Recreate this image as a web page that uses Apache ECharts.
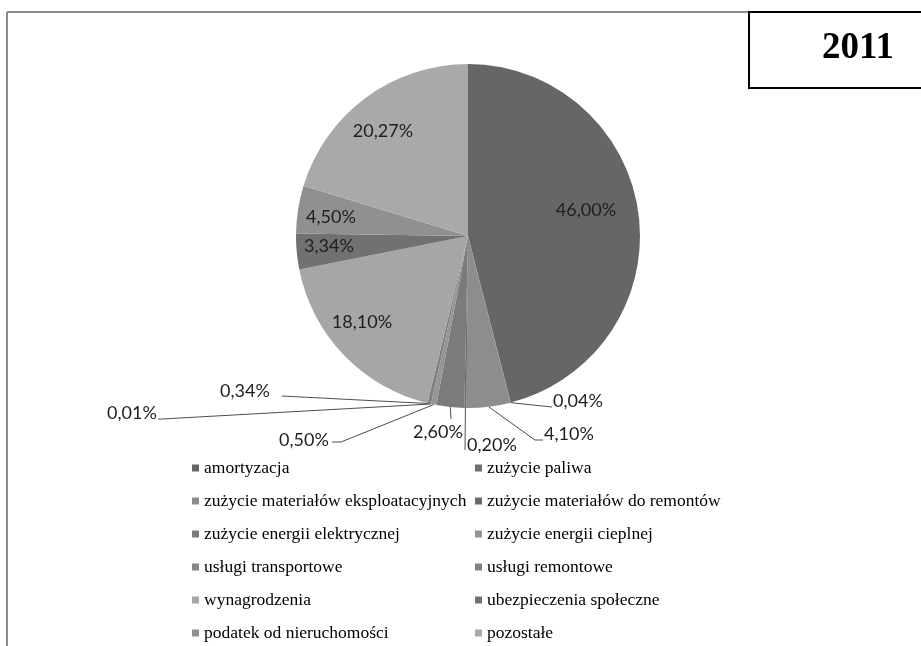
<!DOCTYPE html>
<html>
<head>
<meta charset="utf-8">
<script src="https://cdn.jsdelivr.net/npm/echarts@6/dist/echarts.min.js"></script>
<style>
  html, body { margin: 0; padding: 0; background: #ffffff; }
  #chart { width: 921px; height: 646px; }
</style>
</head>
<body>
<div id="chart"></div>
<script>
// Cost structure, 2011 (% of total costs)
const yearLabel = '2011';

const categories = [
  'amortyzacja',
  'zużycie paliwa',
  'zużycie materiałów eksploatacyjnych',
  'zużycie materiałów do remontów',
  'zużycie energii elektrycznej',
  'zużycie energii cieplnej',
  'usługi transportowe',
  'usługi remontowe',
  'wynagrodzenia',
  'ubezpieczenia społeczne',
  'podatek od nieruchomości',
  'pozostałe'
];

const shares = [46.00, 0.04, 4.10, 0.20, 2.60, 0.50, 0.01, 0.34, 18.10, 3.34, 4.50, 20.27];

const sliceColors = [
  '#666666', '#6f6f6f', '#8d8d8d', '#6a6a6a',
  '#7b7b7b', '#959595', '#878787', '#808080',
  '#a6a6a6', '#717171', '#909090', '#a9a9a9'
];

// Where each percentage label sits; outside labels also get the elbow of their leader line
const labelSpots = [
  { x: 586, y: 210 },
  { x: 578, y: 401, elbow: [[552, 407], [552, 407]] },
  { x: 569, y: 434, elbow: [[535, 440], [543, 440]] },
  { x: 492, y: 445, elbow: [[465, 450], [465, 450]] },
  { x: 438, y: 432, elbow: [[451, 419], [451, 419]] },
  { x: 304, y: 440, elbow: [[341, 442], [332, 442]] },
  { x: 132, y: 413, elbow: [[162, 419], [158, 419]] },
  { x: 245, y: 391, elbow: [[282, 396], [282, 396]] },
  { x: 362, y: 322 },
  { x: 329, y: 246 },
  { x: 331, y: 217 },
  { x: 383, y: 131 }
];

const fmtPercent = v => v.toFixed(2).replace('.', ',') + '%';

const pieData = categories.map((name, i) => {
  const inside = !labelSpots[i].elbow;
  return {
    name: name,
    value: shares[i],
    itemStyle: { color: sliceColors[i] },
    label: { position: inside ? 'inside' : 'outside' },
    labelLine: { show: !inside }
  };
});

const legendText = {
  fontFamily: 'Liberation Serif',
  fontSize: 17.5,
  color: '#000000',
  lineHeight: 20
};

const legendBase = {
  orient: 'vertical', top: 458, height: 220, padding: 0, itemGap: 13,
  icon: 'rect', itemWidth: 7, itemHeight: 7, selectedMode: false,
  textStyle: legendText
};

const chart = echarts.init(document.getElementById('chart'), null, { renderer: 'canvas' });

chart.setOption({
  animation: false,
  backgroundColor: '#ffffff',
  graphic: [
    { type: 'line', shape: { x1: 7, y1: 12, x2: 7, y2: 660 }, style: { stroke: '#8c8c8c', lineWidth: 2 }, silent: true },
    { type: 'line', shape: { x1: 7, y1: 12, x2: 749, y2: 12 }, style: { stroke: '#8c8c8c', lineWidth: 2 }, silent: true },
    { type: 'rect', shape: { x: 749, y: 12, width: 190, height: 76 }, style: { fill: '#ffffff', stroke: '#000000', lineWidth: 2 }, silent: true, z: 10 },
    {
      type: 'text', x: 858, y: 48, z: 11, silent: true,
      style: {
        text: yearLabel, fill: '#000000', align: 'center', verticalAlign: 'middle',
        font: 'bold 37px "Liberation Serif"'
      }
    }
  ],
  legend: [
    Object.assign({}, legendBase, { left: 192, data: categories.filter((_, i) => i % 2 === 0) }),
    Object.assign({}, legendBase, { left: 475, data: categories.filter((_, i) => i % 2 === 1) })
  ],
  series: [{
    type: 'pie',
    center: [468, 236],
    radius: 172,
    startAngle: 90,
    clockwise: true,
    avoidLabelOverlap: false,
    silent: true,
    itemStyle: { borderWidth: 0 },
    label: {
      show: true,
      formatter: p => fmtPercent(p.value),
      fontFamily: 'Lato',
      fontSize: 18,
      color: '#1f1f1f'
    },
    labelLine: {
      show: true,
      length: 10,
      length2: 10,
      lineStyle: { color: '#4d4d4d', width: 1 }
    },
    labelLayout: params => {
      const spot = labelSpots[params.dataIndex];
      const out = { x: spot.x, y: spot.y, align: 'center', verticalAlign: 'middle' };
      if (spot.elbow && params.labelLinePoints) {
        out.labelLinePoints = [params.labelLinePoints[0]].concat(spot.elbow);
      }
      return out;
    },
    data: pieData
  }]
});
</script>
</body>
</html>
